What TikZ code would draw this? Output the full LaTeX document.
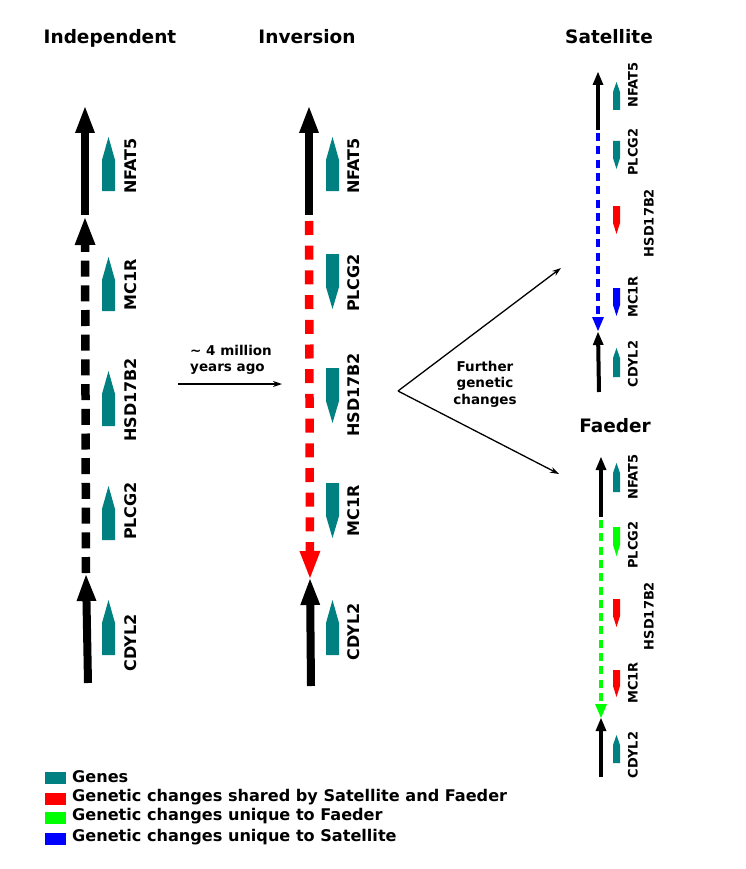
\documentclass[tikz,border=0pt]{standalone}
\usepackage{fontspec}
\setmainfont{DejaVu Sans}
\usetikzlibrary{arrows.meta}
\definecolor{geneteal}{RGB}{0,128,128}
\definecolor{chred}{RGB}{255,0,0}
\definecolor{chgreen}{RGB}{0,255,0}
\definecolor{chblue}{RGB}{0,0,255}
\newcommand\GeneUp[6]{\fill[#6] ({#1-#3/2},{#2+#4}) -- ({#1-#3/2},{#2+#5}) -- (#1,#2) -- ({#1+#3/2},{#2+#5}) -- ({#1+#3/2},{#2+#4}) -- cycle;}
\newcommand\GeneDown[6]{\fill[#6] ({#1-#3/2},#2) -- ({#1-#3/2},{#2+#4-#5}) -- (#1,{#2+#4}) -- ({#1+#3/2},{#2+#4-#5}) -- ({#1+#3/2},#2) -- cycle;}
\tikzset{
  lbl/.style={rotate=90, font=\bfseries\fontsize{16}{19}\selectfont, inner sep=0pt},
  slbl/.style={rotate=90, font=\bfseries\fontsize{13}{15}\selectfont, inner sep=0pt},
  ttl/.style={font=\bfseries\fontsize{18.5}{22}\selectfont, inner sep=0pt, anchor=base},
  note/.style={font=\bfseries\fontsize{13.5}{16.5}\selectfont, inner sep=0pt},
  leg/.style={font=\bfseries\fontsize{16.1}{19}\selectfont, inner sep=0pt, anchor=west},
  bigchrom/.style={line width=8pt, -{Triangle[width=20pt,length=26pt,line width=0pt]}},
  bigdash/.style={line width=8.5pt, dash pattern=on 16pt off 8.7pt, -{Triangle[width=21pt,length=27pt,line width=0pt]}},
  smallchrom/.style={line width=4pt, -{Triangle[width=11pt,length=13pt,line width=0pt]}},
  smalldash/.style={line width=4.5pt, dash pattern=on 8pt off 5.3pt, -{Triangle[width=12pt,length=14pt,line width=0pt]}},
  thinarrow/.style={line width=1.3pt, -{Stealth[length=9pt,width=6pt]}},
}
\begin{document}
\begin{tikzpicture}[x=1pt,y=-1pt]
\useasboundingbox (0,0) rectangle (746,869);
\fill[white] (0,0) rectangle (746,869);

% titles
\node[ttl] (tind) at (110,44) {Independent};
\node[ttl] (tinv) at (307,44) {Inversion};
\node[ttl] (tsat) at (609,44) {Satellite};
\node[ttl] (tfae) at (615,432) {Faeder};

% ---------- Independent ----------
\coordinate (i1) at (88,683);
\coordinate (i2) at (86,575);
\coordinate (i3) at (86,573);
\coordinate (i4) at (85,218);
\coordinate (i5) at (85,215);
\coordinate (i6) at (85,107);
\draw[bigchrom] (i1) -- (i2);
\draw[bigdash] (i3) -- (i4);
\draw[bigchrom] (i5) -- (i6);
\GeneUp{108.5}{137}{13}{54}{23}{geneteal}
\GeneUp{108.5}{257}{13}{54}{23}{geneteal}
\GeneUp{108.5}{371}{13}{55}{23}{geneteal}
\GeneUp{108.5}{486}{13}{54}{23}{geneteal}
\GeneUp{108.5}{600}{13}{55}{23}{geneteal}
\node[lbl] (ia) at (130.5,166) {NFAT5};
\node[lbl] (ib) at (130.5,285) {MC1R};
\node[lbl] (ic) at (130.5,400) {HSD17B2};
\node[lbl] (id) at (130.5,511) {PLCG2};
\node[lbl] (ie) at (130.5,643) {CDYL2};

% ---------- Inversion ----------
\coordinate (v1) at (311,686);
\coordinate (v2) at (310,579);
\coordinate (v3) at (309,221);
\coordinate (v4) at (310,578);
\coordinate (v5) at (309,215);
\coordinate (v6) at (309,107);
\draw[bigchrom] (v1) -- (v2);
\draw[bigdash, chred, dash pattern=on 14pt off 10.7pt] (v3) -- (v4);
\draw[bigchrom] (v5) -- (v6);
\GeneUp{332.5}{137}{13}{54}{23}{geneteal}
\GeneDown{332.5}{254}{13}{55}{22}{geneteal}
\GeneDown{332.5}{368}{13}{55}{22}{geneteal}
\GeneDown{332.5}{483}{13}{55}{22}{geneteal}
\GeneUp{332.5}{600}{13}{55}{23}{geneteal}
\node[lbl] (va) at (354,166) {NFAT5};
\node[lbl] (vb) at (354,283) {PLCG2};
\node[lbl] (vc) at (354,395) {HSD17B2};
\node[lbl] (vd) at (354,511) {MC1R};
\node[lbl] (ve) at (354,632) {CDYL2};

% ---------- time arrow ----------
\node[note, align=left, anchor=west] (time) at (190,360) {\textasciitilde{} 4 million\\years ago};
\coordinate (t1) at (178,384);
\coordinate (t2) at (282,384);
\draw[thinarrow] (t1) -- (t2);

% ---------- fork ----------
\node[note, align=center] (fur) at (485,384) {Further\\genetic\\changes};
\coordinate (f0) at (398,391);
\coordinate (fs) at (561,268);
\coordinate (ff) at (559,474);
\draw[thinarrow] (f0) -- (fs);
\draw[thinarrow] (f0) -- (ff);

% ---------- Satellite ----------
\coordinate (s1) at (599,392);
\coordinate (s2) at (598,332);
\coordinate (s3) at (598,133);
\coordinate (s4) at (598,331);
\coordinate (s5) at (598,130);
\coordinate (s6) at (598,72);
\draw[smallchrom] (s1) -- (s2);
\draw[smalldash, chblue] (s3) -- (s4);
\draw[smallchrom] (s5) -- (s6);
\GeneUp{616.5}{82}{7}{28}{10}{geneteal}
\GeneDown{616.5}{141}{7}{28}{11}{geneteal}
\GeneDown{616.5}{206}{7}{28}{11}{chred}
\GeneDown{616.5}{288}{7}{28}{11}{chblue}
\GeneUp{616.5}{348}{7}{29}{10}{geneteal}
\node[slbl] (sa) at (633,85) {NFAT5};
\node[slbl] (sb) at (633,152) {PLCG2};
\node[slbl] (sc) at (649,223) {HSD17B2};
\node[slbl] (sd) at (633,297) {MC1R};
\node[slbl] (se) at (633,364) {CDYL2};

% ---------- Faeder ----------
\coordinate (a1) at (601,777);
\coordinate (a2) at (601,718);
\coordinate (a3) at (601,520);
\coordinate (a4) at (601,718);
\coordinate (a5) at (601,517);
\coordinate (a6) at (601,457);
\draw[smallchrom] (a1) -- (a2);
\draw[smalldash, chgreen] (a3) -- (a4);
\draw[smallchrom] (a5) -- (a6);
\GeneUp{616.5}{463}{7}{29}{10}{geneteal}
\GeneDown{616.5}{527}{7}{29}{11}{chgreen}
\GeneDown{616.5}{599}{7}{28}{11}{chred}
\GeneDown{616.5}{670}{7}{27}{11}{chred}
\GeneUp{616.5}{735}{7}{28}{10}{geneteal}
\node[slbl] (fa) at (633,477) {NFAT5};
\node[slbl] (fb) at (633,545) {PLCG2};
\node[slbl] (fc) at (649,616) {HSD17B2};
\node[slbl] (fd) at (633,683) {MC1R};
\node[slbl] (fe) at (633,755) {CDYL2};

% ---------- legend ----------
\fill[geneteal] (45,772) rectangle (66,784);
\fill[chred] (45,793) rectangle (66,805);
\fill[chgreen] (45,812) rectangle (66,824);
\fill[chblue] (45,833) rectangle (66,845);
\node[leg] (l1) at (72,777) {Genes};
\node[leg] (l2) at (72,797) {Genetic changes shared by Satellite and Faeder};
\node[leg] (l3) at (72,816) {Genetic changes unique to Faeder};
\node[leg] (l4) at (72,837) {Genetic changes unique to Satellite};
\end{tikzpicture}
\end{document}
